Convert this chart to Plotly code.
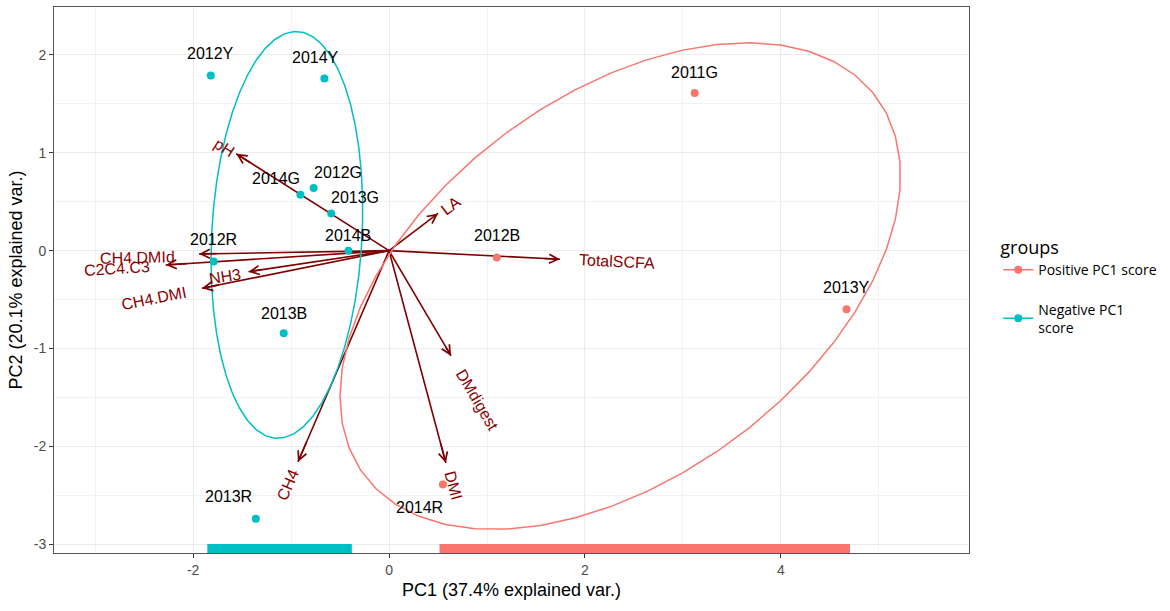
import numpy as np
import plotly.graph_objects as go

# ---------------- data ----------------
samples = ["2011G", "2012B", "2013Y", "2014R",
           "2012Y", "2014Y", "2014G", "2012G", "2013G", "2014B", "2012R", "2013B", "2013R"]
pc1 = [3.12, 1.10, 4.67, 0.55,
       -1.82, -0.66, -0.905, -0.77, -0.59, -0.415, -1.79, -1.075, -1.36]
pc2 = [1.61, -0.07, -0.60, -2.39,
       1.79, 1.76, 0.57, 0.64, 0.38, 0.00, -0.11, -0.845, -2.74]
groups = ["Positive PC1 score"] * 4 + ["Negative PC1 score"] * 9
group_order = ["Positive PC1 score", "Negative PC1 score"]
group_legend_names = ["Positive PC1 score", "Negative PC1<br>score"]

var_names = ["pH", "LA", "TotalSCFA", "CH4.DMId", "C2C4.C3", "NH3", "CH4.DMI", "DMdigest", "DMI", "CH4"]
load_x = [-1.56, 0.50, 1.745, -1.94, -2.28, -1.435, -1.91, 0.633, 0.58, -0.93]
load_y = [0.99, 0.38, -0.088, -0.034, -0.146, -0.215, -0.385, -1.076, -2.17, -2.16]

x_tick_vals = [-2, 0, 2, 4]
x_tick_text = ["-2", "0", "2", "4"]
y_tick_vals = [-3, -2, -1, 0, 1, 2]
y_tick_text = ["-3", "-2", "-1", "0", "1", "2"]

x_title = "PC1 (37.4% explained var.)"
y_title = "PC2 (20.1% explained var.)"
legend_title = "groups"
ellipse_prob = 0.68

# ---------------- styles ----------------
colors = {"Positive PC1 score": "#F8766D", "Negative PC1 score": "#00BFC4"}
arrow_color = "#7F0000"
var_label_color = "#8B0000"
axis_font = "Liberation Sans, Arial, sans-serif"
legend_font = "Open Sans, Noto Sans, sans-serif"
bar_pad = 0.035

# label pixel offsets (label centre relative to mark)
sample_label_shift = {
    "2012Y": (0, 22), "2014Y": (-9, 21), "2014G": (-24, 16), "2012G": (24, 16),
    "2013G": (24, 16), "2014B": (0, 15), "2012R": (0, 22), "2013B": (0, 20),
    "2013R": (-27, 22), "2014R": (-23, -23), "2012B": (0, 22), "2011G": (0, 21),
    "2013Y": (0, 22),
}
var_label_shift = {
    "pH": (-12, 6), "LA": (13, 7.6), "TotalSCFA": (57.5, -2.7), "CH4.DMId": (-61, -3.3),
    "C2C4.C3": (-49, -3.3), "NH3": (-23.6, -5), "CH4.DMI": (-48.4, -10),
    "DMdigest": (25.7, -44), "DMI": (7.6, -22.3), "CH4": (-10.4, -23.3),
}

fig = go.Figure()

# arrow shafts (below points)
sx, sy = [], []
for vx, vy in zip(load_x, load_y):
    sx += [0, vx, None]
    sy += [0, vy, None]
fig.add_trace(go.Scatter(x=sx, y=sy, mode="lines", line=dict(color=arrow_color, width=1.6),
                         showlegend=False, hoverinfo="skip"))

# ellipses (normal probability ellipse, as in ggbiplot)
r = np.sqrt(-2 * np.log(1 - ellipse_prob))
theta = np.linspace(-np.pi, np.pi, 50)
circle = np.column_stack([np.cos(theta), np.sin(theta)])
for g in group_order:
    gx = np.array([x for x, gg in zip(pc1, groups) if gg == g])
    gy = np.array([y for y, gg in zip(pc2, groups) if gg == g])
    cov = np.cov(np.vstack([gx, gy]))
    L = np.linalg.cholesky(cov)
    ell = circle @ L.T * r + np.array([gx.mean(), gy.mean()])
    fig.add_trace(go.Scatter(x=ell[:, 0], y=ell[:, 1], mode="lines",
                             line=dict(color=colors[g], width=1.5),
                             showlegend=False, hoverinfo="skip"))

# range bars along the bottom
for g in group_order:
    gx = [x for x, gg in zip(pc1, groups) if gg == g]
    fig.add_trace(go.Scatter(x=[min(gx) - bar_pad, max(gx) + bar_pad], y=[-3.045, -3.045], mode="lines",
                             line=dict(color=colors[g], width=9),
                             showlegend=False, hoverinfo="skip"))

# points
for g, lname in zip(group_order, group_legend_names):
    gx = [x for x, gg in zip(pc1, groups) if gg == g]
    gy = [y for y, gg in zip(pc2, groups) if gg == g]
    fig.add_trace(go.Scatter(x=gx, y=gy, mode="markers",
                             marker=dict(color=colors[g], size=8),
                             showlegend=False, hoverinfo="skip"))
    fig.add_trace(go.Scatter(x=[None], y=[None], mode="lines+markers", name=lname,
                             legendgroup=g,
                             marker=dict(color=colors[g], size=8),
                             line=dict(color=colors[g], width=1.5)))

annotations = []
# sample labels
for s, x, y in zip(samples, pc1, pc2):
    dx, dy = sample_label_shift[s]
    annotations.append(dict(x=x, y=y, text=s, showarrow=False, xshift=dx, yshift=dy,
                            font=dict(family=axis_font, size=16, color="black")))

# arrow heads and variable labels
for name, vx, vy in zip(var_names, load_x, load_y):
    annotations.append(dict(x=vx, y=vy, ax=vx * 0.9, ay=vy * 0.9, axref="x", ayref="y",
                            xref="x", yref="y", text="", showarrow=True,
                            arrowhead=5, arrowsize=1.1, arrowwidth=1.6, arrowcolor=arrow_color,
                            standoff=0, startstandoff=0))
    ang = -np.degrees(np.arctan(vy / vx))
    dx, dy = var_label_shift[name]
    annotations.append(dict(x=vx, y=vy, text=name, showarrow=False, xshift=dx, yshift=dy,
                            textangle=ang,
                            font=dict(family=axis_font, size=16, color=var_label_color)))

fig.update_layout(
    width=1170, height=611,
    margin=dict(l=54, r=201, t=7, b=58, autoexpand=False),
    plot_bgcolor="white", paper_bgcolor="white",
    annotations=annotations,
    legend=dict(title=dict(text=legend_title, font=dict(family=legend_font, size=18, color="black")),
                font=dict(family=legend_font, size=14, color="black"),
                x=1.032, xanchor="left", y=0.59, yanchor="top",
                tracegroupgap=18, itemwidth=30),
    xaxis=dict(range=[-3.42, 5.92], tickvals=x_tick_vals, ticktext=x_tick_text,
               showgrid=True, gridcolor="#EBEBEB", gridwidth=1.1,
               minor=dict(dtick=1, tick0=0, showgrid=True, gridcolor="#F2F2F2", gridwidth=0.6),
               zeroline=False, showline=True, mirror=True, linecolor="#555555", linewidth=1,
               ticks="outside", ticklen=4, tickcolor="#333333", automargin=False,
               tickfont=dict(family=axis_font, size=14, color="#4D4D4D"),
               title=dict(text=x_title, font=dict(family=axis_font, size=18, color="black"), standoff=6)),
    yaxis=dict(range=[-3.09, 2.49], tickvals=y_tick_vals, ticktext=y_tick_text,
               showgrid=True, gridcolor="#EBEBEB", gridwidth=1.1,
               minor=dict(dtick=0.5, tick0=0, showgrid=True, gridcolor="#F2F2F2", gridwidth=0.6),
               zeroline=False, showline=True, mirror=True, linecolor="#555555", linewidth=1,
               ticks="outside", ticklen=4, tickcolor="#333333", automargin=False,
               tickfont=dict(family=axis_font, size=14, color="#4D4D4D"),
               title=dict(text=y_title, font=dict(family=axis_font, size=18, color="black"), standoff=6)),
)

fig.write_html("out.html", config={"displayModeBar": False},
               post_script="document.body.style.margin='0';")
